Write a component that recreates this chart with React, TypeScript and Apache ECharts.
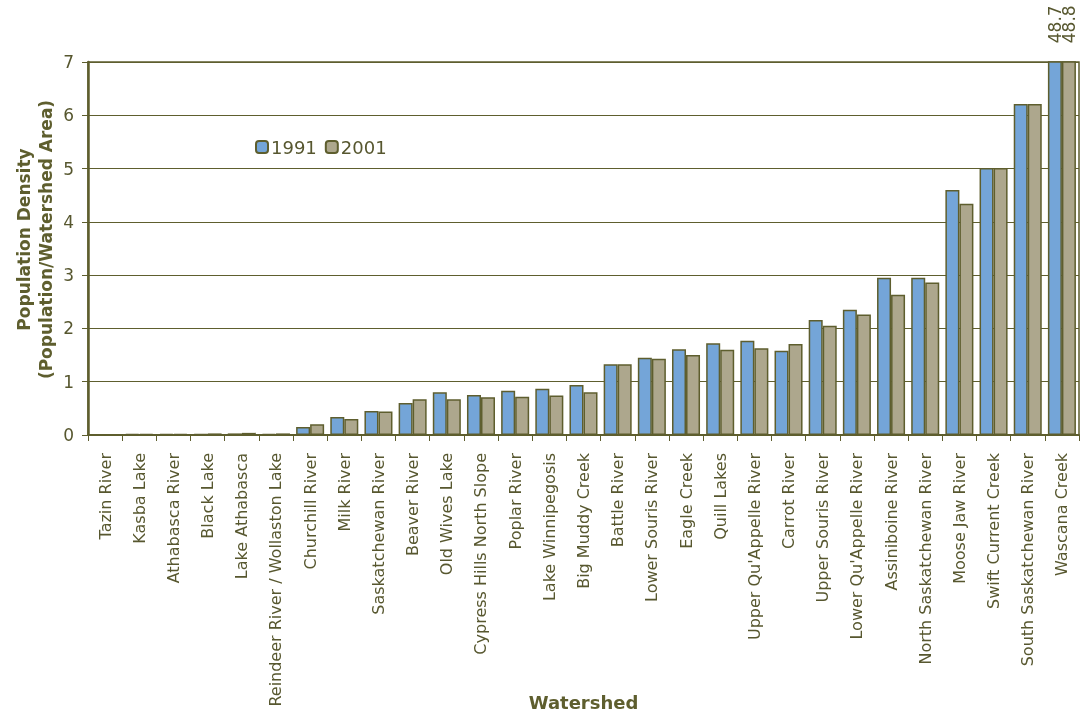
import React, { useEffect, useRef } from "react";
import * as echarts from "echarts";

const categories = [
  "Tazin River", "Kasba Lake", "Athabasca River", "Black Lake", "Lake Athabasca",
  "Reindeer River / Wollaston Lake", "Churchill River", "Milk River", "Saskatchewan River",
  "Beaver River", "Old Wives Lake", "Cypress Hills North Slope", "Poplar River",
  "Lake Winnipegosis", "Big Muddy Creek", "Battle River", "Lower Souris River",
  "Eagle Creek", "Quill Lakes", "Upper Qu'Appelle River", "Carrot River",
  "Upper Souris River", "Lower Qu'Appelle River", "Assiniboine River",
  "North Saskatchewan River", "Moose Jaw River", "Swift Current Creek",
  "South Saskatchewan River", "Wascana Creek",
];

const values1991 = [
  0.01, 0.02, 0.02, 0.02, 0.03, 0.02, 0.15, 0.34, 0.45, 0.6, 0.8, 0.75, 0.83, 0.87,
  0.94, 1.33, 1.45, 1.61, 1.72, 1.77, 1.58, 2.16, 2.35, 2.95, 2.95, 4.6, 5.01, 6.21, 48.7,
];
const values2001 = [
  0.01, 0.02, 0.02, 0.03, 0.04, 0.03, 0.2, 0.3, 0.44, 0.67, 0.67, 0.71, 0.72, 0.74,
  0.8, 1.33, 1.43, 1.5, 1.6, 1.63, 1.71, 2.05, 2.26, 2.63, 2.86, 4.34, 5.01, 6.21, 48.8,
];

const yTicks = [0, 1, 2, 3, 4, 5, 6, 7];

const OLIVE = "#5e5e2e";
const TEXT = "#57572f";
const FONT = "DejaVu Sans, Verdana, sans-serif";

function withTopLabel(values: number[]) {
  const last = values.length - 1;
  return values.map((v, i) =>
    i === last
      ? {
          value: v,
          label: {
            show: true,
            position: "top",
            rotate: 90,
            align: "left",
            verticalAlign: "middle",
            distance: 18,
            fontSize: 17,
            color: TEXT,
            fontFamily: FONT,
            formatter: (p: any) => String(p.value),
          },
        }
      : v
  );
}

export default function App() {
  const ref = useRef<HTMLDivElement>(null);
  useEffect(() => {
    if (!ref.current) return;
    const chart = echarts.init(ref.current, undefined, { renderer: "svg" });
    chart.setOption({
      animation: false,
      textStyle: { fontFamily: FONT },
      grid: {
        left: 88,
        right: 13,
        top: 62,
        bottom: 279,
        containLabel: false,
        outerBoundsMode: "none",
        show: true,
        borderColor: OLIVE,
        borderWidth: 1.5,
      },
      legend: {
        left: 250,
        top: 133,
        itemWidth: 12,
        itemHeight: 12,
        itemGap: 8,
        textStyle: { fontSize: 18, color: TEXT, fontFamily: FONT, padding: [0, 0, 0, -2] },
        data: ["1991", "2001"],
      },
      xAxis: {
        type: "category",
        data: categories,
        name: "Watershed",
        nameLocation: "middle",
        nameGap: 258,
        nameMoveOverlap: false,
        nameTextStyle: { fontSize: 18, fontWeight: "bold", color: OLIVE, fontFamily: FONT },
        axisLine: { lineStyle: { color: OLIVE, width: 2 } },
        axisTick: { show: true, length: 6, lineStyle: { color: OLIVE } },
        axisLabel: {
          rotate: 90,
          interval: 0,
          fontSize: 16,
          color: TEXT,
          margin: 18,
          fontFamily: FONT,
        },
      },
      yAxis: {
        type: "value",
        min: 0,
        max: 7,
        interval: 1,
        name: "Population Density\n(Population/Watershed Area)",
        nameLocation: "middle",
        nameGap: 31,
        nameMoveOverlap: false,
        nameTextStyle: {
          fontSize: 17,
          fontWeight: "bold",
          color: OLIVE,
          lineHeight: 22,
          fontFamily: FONT,
          padding: [0, 0, 0, 18],
        },
        axisLine: { show: true, lineStyle: { color: OLIVE, width: 2.5 } },
        axisTick: { show: true, length: 6, lineStyle: { color: OLIVE } },
        axisLabel: {
          fontSize: 17,
          color: TEXT,
          margin: 14,
          fontFamily: FONT,
          formatter: (v: number) => (yTicks.includes(v) ? String(v) : ""),
        },
        splitLine: { lineStyle: { color: OLIVE, width: 1 } },
      },
      series: [
        {
          name: "1991",
          type: "bar",
          data: withTopLabel(values1991),
          barGap: "0%",
          barCategoryGap: "18%",
          clip: true,
          itemStyle: { color: "#74a5d8", borderColor: OLIVE, borderWidth: 1.5 },
        },
        {
          name: "2001",
          type: "bar",
          data: withTopLabel(values2001),
          barGap: "0%",
          barCategoryGap: "18%",
          clip: true,
          itemStyle: { color: "#ada78d", borderColor: OLIVE, borderWidth: 1.5 },
        },
      ],
    });
    return () => chart.dispose();
  }, []);
  return (
    <div
      ref={ref}
      style={{ position: "fixed", left: 0, top: 0, width: 1092, height: 714 }}
    />
  );
}
